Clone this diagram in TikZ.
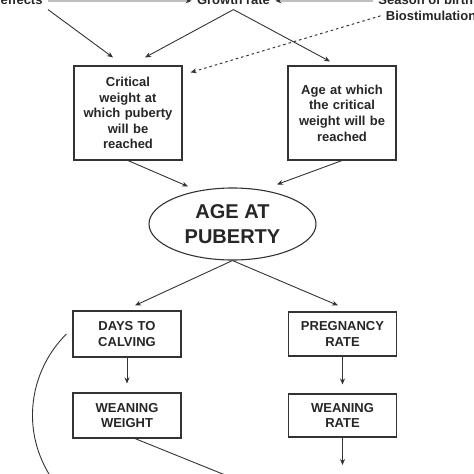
\documentclass[tikz,border=0pt]{standalone}
\usepackage{fontspec}
\setmainfont{Liberation Sans}
\usetikzlibrary{arrows.meta,shapes.geometric}

\begin{document}
\begin{tikzpicture}[x=1pt,y=-1pt,->,>={Stealth[length=6pt,width=5pt]},
  color=black!80,text=black!85,line width=0.9pt,
  font=\bfseries\fontsize{13}{15.6}\selectfont,
  box node/.style={rectangle,draw,line width=1.1pt,minimum width=108pt,
    text width=96pt,align=center,inner sep=0pt},
  oval node/.style={ellipse,draw,line width=1.1pt,minimum width=167pt,
    minimum height=72pt,inner sep=0pt,align=center,
    font=\bfseries\fontsize{20}{25}\selectfont},
  top node/.style={inner sep=5pt}]

  \useasboundingbox (0,0) rectangle (474,474);
  \clip (0,0) rectangle (474,474);

  \node[top node,anchor=base east] (eff) at (48,4) {effects};
  \node[top node,anchor=base] (growth) at (233.5,4) {Growth rate};
  \node[top node,anchor=base west] (season) at (373,4) {Season of birth};
  \node[top node,anchor=base west] (bio) at (380.5,20.5) {Biostimulation};

  \node[box node,minimum height=94pt] (crit) at (128,113)
    {Critical\\weight at\\which puberty\\will be\\reached};
  \node[box node,minimum height=94pt] (when) at (342,113)
    {Age at which\\the critical\\weight will be\\reached};
  \node[oval node] (puberty) at (232.5,224) {AGE AT\\PUBERTY};
  \node[box node,minimum height=46pt] (days) at (127,334) {DAYS TO\\CALVING};
  \node[box node,minimum height=44pt] (preg) at (342.5,334) {PREGNANCY\\RATE};
  \node[box node,minimum height=45pt] (weight) at (127,415.5) {WEANING\\WEIGHT};
  \node[box node,minimum height=43pt] (rate) at (342.5,415.5) {WEANING\\RATE};

  \coordinate (rateout) at (342.5,465);
  \coordinate (wout) at (240,481);
  \coordinate (cout) at (65,495);

  % top row
  \draw[-{Stealth[length=6pt,width=5pt,color=black!80]},line width=2.6pt,gray!50]
    ([yshift=-1.5pt]eff.east) -- ([yshift=-1.5pt]growth.west);
  \draw[-{Stealth[length=6pt,width=5pt,color=black!80]},line width=2.6pt,gray!50]
    ([yshift=-1.5pt]season.west) -- ([yshift=-1.5pt]growth.east);
  \draw[line width=1pt,dash pattern=on 2.5pt off 3pt] (bio.west) -- ([xshift=8pt,yshift=-7pt]crit.north east);

  \draw (eff.south east) -- ([xshift=-15pt,yshift=8pt]crit.north);
  \draw (growth.south) -- ([xshift=17pt,yshift=8pt]crit.north);
  \draw (growth.south) -- ([xshift=-12pt,yshift=4pt]when.north);

  \draw (crit.south) -- ([xshift=-44.5pt,yshift=1pt]puberty.north);
  \draw (when.south) -- ([xshift=44.5pt,yshift=3pt]puberty.north);
  \draw (puberty.south) -- ([xshift=8pt,yshift=5pt]days.north);
  \draw (puberty.south) -- ([xshift=-4.5pt,yshift=6pt]preg.north);

  \draw[shorten >=9pt] (days.south) -- (weight.north);
  \draw[shorten >=9pt] (preg.south) -- (rate.north);
  \draw (rate.south) -- (rateout);
  \draw[-] ([xshift=8pt]weight.south) -- (wout);
  \draw[-] ([xshift=-6pt]days.west) .. controls (25,375) and (18,445) .. (cout);

\end{tikzpicture}
\end{document}
